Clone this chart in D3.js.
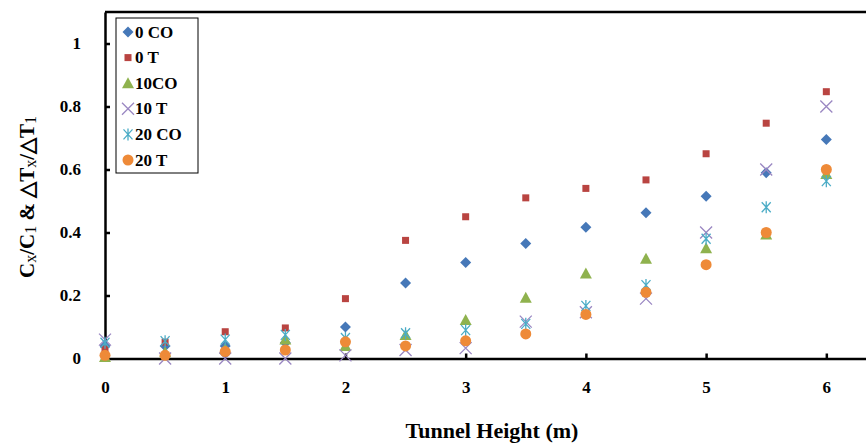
<!DOCTYPE html>
<html>
<head>
<meta charset="utf-8">
<script src="https://cdn.jsdelivr.net/npm/d3@7"></script>
<style>
  body { margin: 0; background: #fff; }
  svg { display: block; font-family: 'Liberation Serif', 'Times New Roman', serif; }
</style>
</head>
<body>
<svg id="chart"></svg>
<script>
const heights = [0, 0.5, 1, 1.5, 2, 2.5, 3, 3.5, 4, 4.5, 5, 5.5, 6];

const co0 = [0.04, 0.04, 0.04, 0.05, 0.10, 0.24, 0.305, 0.365, 0.417, 0.463, 0.515, 0.59, 0.695];
const t0 = [0.03, 0.052, 0.085, 0.097, 0.19, 0.375, 0.45, 0.51, 0.54, 0.567, 0.65, 0.747, 0.847];
const co10 = [0.005, 0.02, 0.03, 0.06, 0.04, 0.075, 0.122, 0.193, 0.27, 0.317, 0.35, 0.394, 0.586];
const t10 = [0.06, 0.0, 0.0, 0.0, 0.01, 0.027, 0.033, 0.117, 0.147, 0.19, 0.40, 0.60, 0.80];
const co20 = [0.05, 0.055, 0.06, 0.075, 0.065, 0.08, 0.09, 0.11, 0.167, 0.233, 0.38, 0.48, 0.563];
const t20 = [0.01, 0.01, 0.022, 0.027, 0.053, 0.04, 0.056, 0.078, 0.14, 0.21, 0.298, 0.40, 0.60];

const xTicks = [0, 1, 2, 3, 4, 5, 6];
const yTicks = [0, 0.2, 0.4, 0.6, 0.8, 1];

const series = [
  { name: '0 CO', values: co0, shape: 'diamond', color: '#4678B8' },
  { name: '0 T', values: t0, shape: 'square', color: '#B94441' },
  { name: '10CO', values: co10, shape: 'triangle', color: '#8FB24E' },
  { name: '10 T', values: t10, shape: 'cross', color: '#9A87C2' },
  { name: '20 CO', values: co20, shape: 'asterisk', color: '#4BACC6' },
  { name: '20 T', values: t20, shape: 'circle', color: '#EE8A38' },
];

const W = 866, H = 447;
const margin = { top: 12, right: 0, bottom: 88, left: 105 };

const svg = d3.select('#chart').attr('width', W).attr('height', H);

const x = d3.scaleLinear().domain([0, 6.33]).range([margin.left, W - margin.right]);
const y = d3.scaleLinear().domain([0, 1.1]).range([H - margin.bottom - 0.5, margin.top]);

// frame (left axis, top line, bottom axis)
const g = svg.append('g');
g.append('line').attr('x1', x(0)).attr('x2', W).attr('y1', y(1.1)).attr('y2', y(1.1))
  .attr('stroke', '#000').attr('stroke-width', 2.5);

const xAxis = g.append('g')
  .attr('transform', `translate(0,${y(0)})`)
  .call(d3.axisBottom(x).tickValues(xTicks).tickFormat(d3.format('d'))
    .tickSizeInner(-5).tickSizeOuter(0).tickPadding(22));
xAxis.select('.domain').attr('stroke-width', 2.5);
xAxis.selectAll('.tick line').attr('stroke-width', 2.5);
xAxis.selectAll('.tick text').attr('font-size', 17).attr('font-weight', 'bold')
  .attr('font-family', 'Liberation Serif').attr('fill', '#000');

const yAxis = g.append('g')
  .attr('transform', `translate(${x(0)},0)`)
  .call(d3.axisLeft(y).tickValues(yTicks).tickSizeInner(-5).tickSizeOuter(0).tickPadding(24)
    .tickFormat(d => d3.format('')(+d.toFixed(1))));
yAxis.select('.domain').attr('stroke-width', 2.5);
yAxis.selectAll('.tick line').attr('stroke-width', 2.5);
yAxis.selectAll('.tick text').attr('font-size', 17).attr('font-weight', 'bold')
  .attr('font-family', 'Liberation Serif').attr('fill', '#000');

function drawMarker(sel, shape, color) {
  if (shape === 'diamond') {
    sel.append('path').attr('d', 'M0,-5.5L5.5,0L0,5.5L-5.5,0Z').attr('fill', color);
  } else if (shape === 'square') {
    sel.append('rect').attr('x', -3.5).attr('y', -3.5).attr('width', 7).attr('height', 7).attr('fill', color);
  } else if (shape === 'triangle') {
    sel.append('path').attr('d', 'M0,-6L6,5L-6,5Z').attr('fill', color);
  } else if (shape === 'cross') {
    sel.append('path').attr('d', 'M-6,-6L6,6M-6,6L6,-6').attr('stroke', color).attr('stroke-width', 1.3).attr('fill', 'none');
  } else if (shape === 'asterisk') {
    sel.append('path').attr('d', 'M-4.5,-5L4.5,5M-4.5,5L4.5,-5M0,-6L0,6').attr('stroke', color).attr('stroke-width', 1.3).attr('fill', 'none');
  } else {
    sel.append('circle').attr('r', 5.5).attr('fill', color);
  }
}

series.forEach(s => {
  const pts = svg.append('g').selectAll('g')
    .data(s.values.map((v, i) => ({ h: heights[i], v })))
    .join('g')
    .attr('transform', d => `translate(${x(d.h)},${y(d.v)})`);
  drawMarker(pts, s.shape, s.color);
});

// legend
const legend = svg.append('g').attr('transform', 'translate(116,18)');
legend.append('rect').attr('width', 82).attr('height', 155)
  .attr('fill', '#fff').attr('stroke', '#000').attr('stroke-width', 1);
series.forEach((s, i) => {
  const row = legend.append('g').attr('transform', `translate(12,${14 + i * 25.6})`);
  drawMarker(row, s.shape, s.color);
  row.append('text').attr('x', 7).attr('y', 5.5)
    .attr('font-size', 17).attr('font-weight', 'bold').text(s.name);
});

// axis titles
svg.append('text').attr('x', 492).attr('y', 438).attr('text-anchor', 'middle')
  .attr('font-size', 22).attr('font-weight', 'bold').text('Tunnel Height (m)');

const yt = svg.append('text')
  .attr('transform', 'translate(34,197) rotate(-90)')
  .attr('text-anchor', 'middle').attr('font-size', 21).attr('font-weight', 'bold');
const parts = [['C', 0], ['x', 1], ['/C', 0], ['1', 1], [' &  \u25B3T', 0], ['x', 1], ['/\u25B3T', 0], ['1', 1]];
parts.forEach(([t, sub]) => {
  yt.append('tspan').attr('font-size', sub ? 16 : 21).attr('font-weight', sub ? 'normal' : 'bold')
    .attr('baseline-shift', sub ? '-2' : null).text(t);
});
</script>
</body>
</html>
